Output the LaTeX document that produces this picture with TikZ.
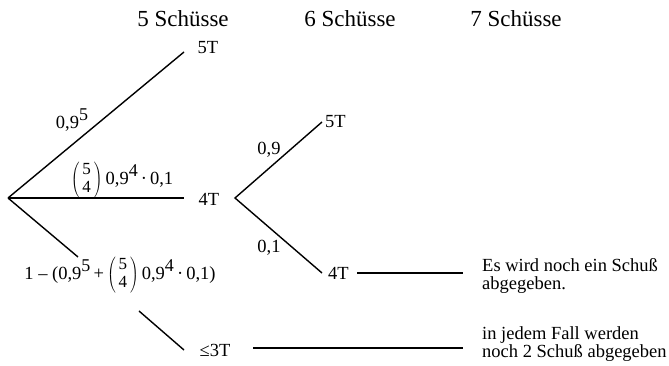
\documentclass[tikz,border=0pt]{standalone}
\usepackage{fontspec}
\setmainfont{Liberation Serif}
\tikzset{
  edge/.style={line width=1.4pt},
  lbl/.style={font=\fontsize{18.5}{20}\selectfont, inner sep=0pt},
  hdr/.style={font=\fontsize{23}{25}\selectfont, inner sep=0pt},
  note/.style={font=\fontsize{18.5}{18}\selectfont, inner sep=0pt, align=left, anchor=west},
}
\newcommand{\sexp}[1]{\raisebox{0.9ex}{\fontsize{18}{18}\selectfont #1}}
\newcommand{\bnm}{$\left(\begin{array}{@{\,}c@{\,}}\mbox{\fontsize{17}{17}\selectfont 5}\\[-2pt]\mbox{\fontsize{17}{17}\selectfont 4}\end{array}\right)$}
\begin{document}
\begin{tikzpicture}[x=1pt,y=1pt]
\useasboundingbox (0,0) rectangle (669,366);
% headers
\node[hdr] (h5) at (183,347) {5 Schüsse};
\node[hdr] (h6) at (350,347) {6 Schüsse};
\node[hdr] (h7) at (516,347) {7 Schüsse};
% first stage
\coordinate (r) at (8,168);
\coordinate (e5) at (184,314);
\coordinate (e4) at (184,168);
\coordinate (e3a) at (78,109);
\coordinate (e3b) at (139,55);
\coordinate (e3c) at (184,16);
\node[lbl] (t5) at (208,318) {5T};
\node[lbl] (t4) at (209,167) {4T};
\node[lbl] (t3) at (215,16) {≤3T};
\draw[edge] (r) -- (e5);
\draw[edge] (r) -- (e4);
\draw[edge] (r) -- (e3a);
\draw[edge] (e3b) -- (e3c);
\node[lbl] (p5) at (72,246) {0,9\sexp{5}};
\node[lbl] (p4) at (122,186) {\bnm\,0,9\sexp{4}\,·\,0,1};
\node[lbl] (p3) at (120,91) {1 – (0,9\sexp{5}\,+\,\bnm\,0,9\sexp{4}\,·\,0,1)};
% second stage
\coordinate (r2) at (235,168);
\coordinate (s5) at (322,244);
\coordinate (s4) at (322,93);
\draw[edge] (s5) -- (r2) -- (s4);
\node[lbl,anchor=west] (u5) at (325,244) {5T};
\node[lbl,anchor=west] (u4) at (328,93) {4T};
\node[lbl] (q9) at (269,216) {0,9};
\node[lbl] (q1) at (269,118) {0,1};
\coordinate (l4s) at (357,93);
\coordinate (l4) at (463,93);
\draw[edge] (l4s) -- (l4);
\coordinate (l3s) at (253,18);
\coordinate (l3) at (463,18);
\draw[edge] (l3s) -- (l3);
% notes
\node[note] (n1) at (482,90) {Es wird noch ein Schuß\\abgegeben.};
\node[note] (n2) at (482,22) {in jedem Fall werden\\noch 2 Schuß abgegeben};
\end{tikzpicture}
\end{document}
